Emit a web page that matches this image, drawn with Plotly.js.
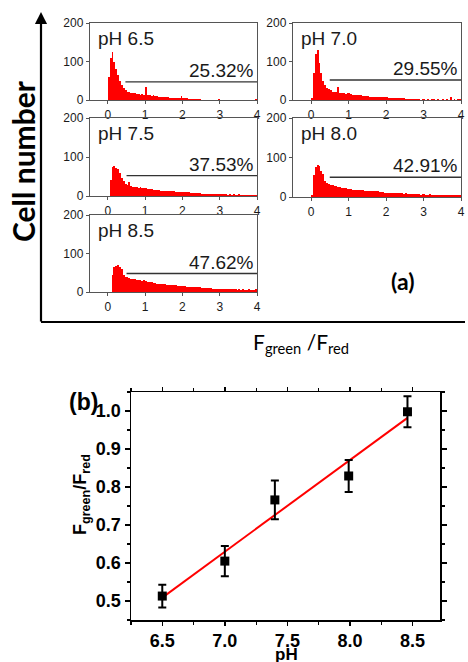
<!DOCTYPE html>
<html><head><meta charset="utf-8">
<script src="https://cdn.plot.ly/plotly-3.0.1.min.js"></script>
<style>html,body{margin:0;padding:0;background:#fff}#chart{width:468px;height:662px}</style>
</head><body><div id="chart"></div>
<script>
// ---------- DATA ----------
const binWidth = 0.05;          // histogram bin width (F_green/F_red units), bins start at 0
const histLabels = ['pH 6.5', 'pH 7.0', 'pH 7.5', 'pH 8.0', 'pH 8.5'];
const counts65 = [60,110,125,100,80,65,50,40,32,26, 22,20,18,19,17,15,16,14,15,13, 35,13,12,11,12,10,10,9,9,8, 9,7,7,6,6,5,5,5,6,11, 6,4,4,3,3,3,2,3,2,2, 1,1,0,1,1,0,1,0,1,2, 0,1,0,1,1,0,1,0,1,0, 1,0,1,1,0,0,1,0,1,2];
const counts70 = [5,70,120,130,95,70,50,40,32,28, 25,22,21,20,35,18,19,17,16,17, 17,15,14,14,13,12,12,11,11,10, 10,9,9,8,8,8,7,7,8,8, 7,6,6,5,5,5,4,4,4,4, 3,3,2,3,2,2,3,2,1,2, 2,1,2,1,2,3,1,2,1,1, 2,1,2,1,7,1,2,1,2,3];
const counts75 = [0,40,75,78,72,68,60,45,38,30, 29,37,26,23,22,22,21,22,20,21, 20,19,17,17,16,16,15,15,14,14, 14,13,13,12,12,12,11,11,10,10, 10,9,9,9,8,8,8,7,7,7, 6,6,6,5,5,6,5,5,4,5, 4,4,4,5,3,4,3,4,3,3, 4,3,3,2,3,3,2,3,2,3];
const counts80 = [5,55,75,80,78,65,58,40,35,33, 31,30,28,27,25,26,24,23,22,21, 20,20,19,19,18,18,17,17,16,16, 16,15,15,14,14,14,13,13,12,11, 11,11,10,10,10,9,9,9,9,8, 9,8,8,8,7,8,7,7,6,7, 7,6,6,7,6,6,5,6,6,5, 6,5,6,5,5,6,5,5,6,5];
const counts85 = [0,0,45,65,68,70,66,60,45,40, 38,36,35,34,33,32,31,30,29,30, 28,27,26,25,24,23,22,22,21,20, 20,19,19,18,18,17,17,16,16,16, 15,15,14,14,14,13,13,12,12,12, 11,11,11,10,10,10,9,9,9,9, 8,8,8,8,7,8,7,7,7,6, 7,6,7,6,6,7,6,6,5,7];
const gatePercent = ['25.32%', '29.55%', '37.53%', '42.91%', '47.62%'];
const gateLevel = [47, 52, 52, 50, 48];
const gateStart = [0.47, 0.5, 0.5, 0.5, 0.5];
const gateEnd = 4;

const pH = [6.5, 7.0, 7.4, 7.99, 8.46];
const ratio = [0.513, 0.605, 0.766, 0.829, 0.998];
const ratioErr = [0.030, 0.040, 0.051, 0.042, 0.041];
const fitX = [6.5, 8.46];
const fitY = [0.509, 0.982];

// ---------- LAYOUT HELPERS ----------
const W = 468, H = 662;
const px = v => v / W;
const py = v => 1 - v / H;
const histCounts = [counts65, counts70, counts75, counts80, counts85];
// [left, right, top, bottom] in pixels
const boxes = [[90,257,23,100],[293,461,23,100],[90,257,118,196],[293,461,118,197],[90,257,215,292]];

const data = [];
const layout = {
  width: W, height: H, margin: {l:0, r:0, t:0, b:0},
  paper_bgcolor: '#fff', plot_bgcolor: 'rgba(0,0,0,0)',
  showlegend: false, bargap: 0,
  font: {family: 'Liberation Sans, Arial, sans-serif', color: '#222'},
  annotations: [], shapes: []
};

histCounts.forEach((c, i) => {
  const n = i + 1;
  const xs = c.map((_, k) => (k + 0.5) * binWidth);
  data.push({type: 'bar', x: xs, y: c, width: binWidth, xaxis: 'x' + n, yaxis: 'y' + n,
             marker: {color: '#ff0000', line: {width: 0}}, hoverinfo: 'skip'});
  data.push({type: 'scatter', mode: 'lines', x: [gateStart[i], gateEnd], y: [gateLevel[i], gateLevel[i]],
             xaxis: 'x' + n, yaxis: 'y' + n, line: {color: '#333', width: 1.3}, hoverinfo: 'skip'});
  const b = boxes[i];
  const common = {showline: true, mirror: true, linecolor: '#555', linewidth: 1.2, ticks: 'outside',
                  ticklen: 3, tickcolor: '#555', showgrid: false, zeroline: false,
                  tickfont: {size: 12, color: '#1a1a1a', family: 'Liberation Sans, Arial'}};
  layout['xaxis' + n] = Object.assign({}, common, {domain: [px(b[0]), px(b[1])], anchor: 'y' + n,
                  range: [-0.48, 4], tick0: 0, dtick: 1});
  layout['yaxis' + n] = Object.assign({}, common, {domain: [py(b[3]), py(b[2])], anchor: 'x' + n,
                  range: [0, 200], tick0: 0, dtick: 100});
  layout.annotations.push({xref: 'x' + n + ' domain', yref: 'y' + n + ' domain', x: 0.035, y: 0.8,
                  xanchor: 'left', yanchor: 'middle', showarrow: false, text: histLabels[i],
                  font: {size: 19, color: '#1a1a1a'}});
  layout.annotations.push({xref: 'x' + n, yref: 'y' + n, x: gateEnd, y: gateLevel[i],
                  xanchor: 'right', yanchor: 'bottom', showarrow: false, text: gatePercent[i],
                  xshift: -1, yshift: -1, font: {size: 19, color: '#1a1a1a'}});
});

// Panel (b)
data.push({type: 'scatter', mode: 'lines', x: fitX, y: fitY, xaxis: 'x6', yaxis: 'y6',
           line: {color: '#ff0000', width: 2}, hoverinfo: 'skip'});
data.push({type: 'scatter', mode: 'markers', x: pH, y: ratio, xaxis: 'x6', yaxis: 'y6',
           marker: {symbol: 'square', size: 9, color: '#000'},
           error_y: {type: 'data', array: ratioErr, visible: true, color: '#000', thickness: 2, width: 4}});
const axB = {showline: true, mirror: 'allticks', linecolor: '#000', linewidth: 1.5, ticks: 'outside',
             ticklen: 5, tickwidth: 1.5, tickcolor: '#000', showgrid: false, zeroline: false,
             tickprefix: '<b>', ticksuffix: '</b>',
             tickfont: {size: 18, color: '#000', family: 'Liberation Sans, Arial', weight: 'bold'}};
layout.xaxis6 = Object.assign({}, axB, {domain: [px(131), px(440)], anchor: 'y6', range: [6.25, 8.72],
             tick0: 6.5, dtick: 0.5, tickformat: '.1f', ticklen: 4,
             minor: {ticks: 'outside', dtick: 0.25, tick0: 6.25, ticklen: 3, tickwidth: 1.2, tickcolor: '#000'}});
layout.yaxis6 = Object.assign({}, axB, {domain: [py(620), py(392)], anchor: 'x6', range: [0.45, 1.05],
             tick0: 0.5, dtick: 0.1, tickformat: '.1f',
             minor: {ticks: 'outside', dtick: 0.05, tick0: 0.45, ticklen: 3, tickwidth: 1.2, tickcolor: '#000'}});

const paperNote = (x, y, text, font, extra) => layout.annotations.push(Object.assign({
  xref: 'paper', yref: 'paper', x: px(x), y: py(y), xanchor: 'center', yanchor: 'middle',
  showarrow: false, text: text, font: font}, extra || {}));

// Panel (a) big frame
layout.shapes.push({type: 'line', xref: 'paper', yref: 'paper', x0: px(41), x1: px(465), y0: py(322), y1: py(322),
                    line: {color: '#000', width: 2.2}});
layout.annotations.push({xref: 'paper', yref: 'paper', x: px(41), y: py(12), ax: 0, ay: 311,
                    showarrow: true, arrowhead: 2, arrowsize: 1.1, arrowwidth: 2.2, arrowcolor: '#000', text: ''});
paperNote(23, 161, '<b>Cell number</b>', {family: 'Lato, sans-serif', size: 30, color: '#000'}, {textangle: -90});
paperNote(301, 343, 'F<sub>green</sub> /F<sub>red</sub>', {family: 'Lato, sans-serif', size: 21, color: '#000'});
paperNote(402, 281, '<b>(a)</b>', {family: 'Lato, sans-serif', size: 23, color: '#000'});
// Panel (b) labels
paperNote(83, 402, '<b>(b)</b>', {size: 23, color: '#000'});
paperNote(81, 495, '<b>F<sub>green</sub>/F<sub>red</sub></b>', {size: 18, color: '#000'}, {textangle: -90});
paperNote(286, 654, '<b>pH</b>', {size: 17, color: '#000'}, {borderpad: 0});

Plotly.newPlot('chart', data, layout, {staticPlot: true, displayModeBar: false});
</script>
</body></html>
